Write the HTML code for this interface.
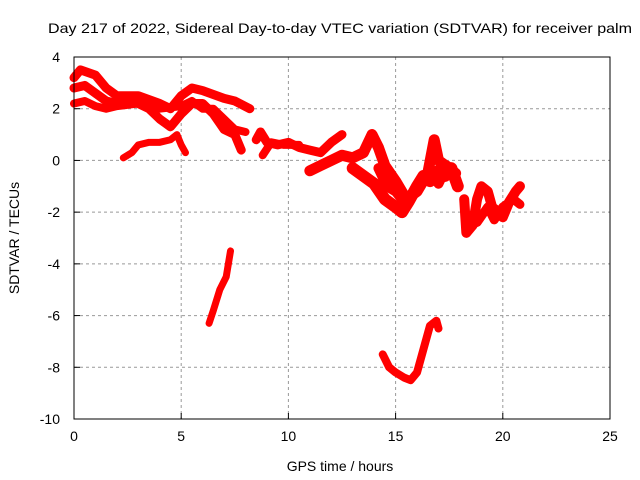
<!DOCTYPE html>
<html><head><meta charset="utf-8"><style>
body{margin:0;background:#fff}
svg{display:block;font-family:"Liberation Sans",sans-serif;font-size:14px}
</style></head><body>
<svg id="chart" width="640" height="480">
<text x="340" y="33" text-anchor="middle" textLength="584" lengthAdjust="spacingAndGlyphs">Day 217 of 2022, Sidereal Day-to-day VTEC variation (SDTVAR) for receiver palm</text>
<text x="340" y="471" text-anchor="middle">GPS time / hours</text>
<text transform="translate(19,238) rotate(-90)" text-anchor="middle">SDTVAR / TECUs</text>
<g id="grid"></g><g id="marks"></g>
<rect x="74" y="57" width="536" height="362" fill="none" stroke="#000" stroke-width="1"/>
<g id="ticks"></g>
</svg>
<script>
const xTicks=[0,5,10,15,20,25];
const yTicks=[4,2,0,-2,-4,-6,-8,-10];
const tracks=[
{w:9,x:[0,0.3,1,1.5,2,3,4,4.5,5,5.5,6,7,7.5,8.2],y:[3.2,3.5,3.3,2.8,2.5,2.5,2.2,2.0,2.5,2.8,2.7,2.4,2.3,2.0]},
{w:9,x:[0,0.5,1,1.5,2,2.5,3,3.5,4,4.5,5,5.5,6,6.5,7,7.5,7.8],y:[2.8,2.9,2.6,2.3,2.2,2.4,2.2,2.0,1.6,1.3,1.8,2.2,2.2,1.8,1.2,1.0,0.4]},
{w:8,x:[0,0.5,1,1.5,2,3,4,5,5.5,6,6.5,7,7.5,8],y:[2.2,2.3,2.1,2.0,2.1,2.2,2.0,2.1,2.3,2.0,2.0,1.6,1.2,1.1]},
{w:7,x:[2.3,2.7,3,3.5,4,4.5,4.8,5,5.2],y:[0.1,0.3,0.6,0.7,0.7,0.8,1.0,0.6,0.3]},
{w:9,x:[8.5,8.7,9,9.5,10,10.5,11,11.5,12,12.5],y:[0.8,1.1,0.7,0.6,0.7,0.5,0.4,0.3,0.7,1.0]},
{w:8,x:[8.8,9.2,9.8,10.5],y:[0.2,0.7,0.6,0.6]},
{w:11,x:[11,11.5,12,12.5,13,13.5,13.9,14.2,14.5,15,15.5,16,16.5,16.8,17,17.5,17.8],y:[-0.4,-0.2,0,0.2,0.1,0.3,1.0,0.5,-0.2,-0.8,-1.5,-1.2,-0.5,0.8,0,-0.3,-0.5]},
{w:12,x:[13,13.5,14,14.5,15,15.3,15.6,16,16.3,16.6,17,17.3,17.6,17.9],y:[-0.3,-0.6,-0.9,-1.5,-1.8,-2.0,-1.6,-1.0,-0.6,-0.8,-0.4,-0.6,-0.3,-1.0]},
{w:10,x:[14.2,14.6,15,15.4,15.8,16.2,16.6,17,17.4],y:[-0.3,-1.0,-1.2,-1.6,-1.3,-0.9,-0.4,-0.9,-0.2]},
{w:10,x:[18.2,18.3,18.6,18.8,19,19.3,19.5,19.8,20,20.3,20.6,20.8],y:[-1.5,-2.8,-2.5,-1.5,-1.0,-1.2,-1.8,-2.0,-2.2,-1.6,-1.2,-1.0]},
{w:9,x:[18.8,19.3,19.6,20,20.5,20.8],y:[-2.4,-1.8,-2.3,-1.8,-1.5,-1.7]},
{w:7,x:[6.3,6.5,6.8,7.1,7.3],y:[-6.3,-5.8,-5.0,-4.5,-3.5]},
{w:8,x:[14.4,14.7,15,15.4,15.7,16,16.3,16.6,16.9,17],y:[-7.5,-8.0,-8.2,-8.4,-8.5,-8.2,-7.3,-6.4,-6.2,-6.5]}
];
const X=h=>74+h*536/25, Y=v=>57+(4-v)*362/14;
const NS="http://www.w3.org/2000/svg";
const grid=document.getElementById('grid'),ticks=document.getElementById('ticks'),marks=document.getElementById('marks');
function mk(tag,a,p){const e=document.createElementNS(NS,tag);for(const k in a)e.setAttribute(k,a[k]);p.appendChild(e);return e;}
xTicks.forEach(t=>{
 if(t>0&&t<25){const g=mk('line',{x1:X(t),x2:X(t),y1:57,y2:419,stroke:'#999','stroke-dasharray':'3,3'},grid);
 
 }
 const l=mk('text',{x:X(t),y:441,'text-anchor':'middle'},ticks);l.textContent=t;
 
 
 mk('line',{x1:X(t),x2:X(t),y1:419,y2:413,stroke:'#000'},ticks);
});
yTicks.forEach(t=>{
 if(t<4&&t>-10){const g=mk('line',{x1:74,x2:610,y1:Y(t),y2:Y(t),stroke:'#999','stroke-dasharray':'3,3'},grid);
 
 }
 const l=mk('text',{x:60,y:Y(t)+5,'text-anchor':'end'},ticks);l.textContent=t;
 
 
 mk('line',{x1:74,x2:80,y1:Y(t),y2:Y(t),stroke:'#000'},ticks);
});
tracks.forEach(tr=>{
 const pts=tr.x.map((h,i)=>X(h)+','+Y(tr.y[i])).join(' ');
 const p=mk('polyline',{points:pts,fill:'none',stroke:'#f00','stroke-width':tr.w,'stroke-linejoin':'round','stroke-linecap':'round'},marks);
 
 
});
</script>
</body></html>
